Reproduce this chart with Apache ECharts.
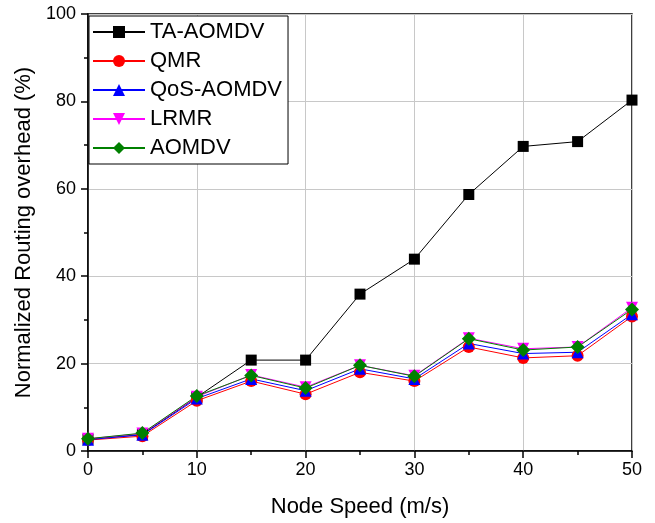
<!DOCTYPE html>
<html><head><meta charset="utf-8">
<script src="https://cdn.jsdelivr.net/npm/echarts@6/dist/echarts.min.js"></script>
<style>html,body{margin:0;padding:0;background:#fff}#c{width:655px;height:523px}</style>
</head><body><div id="c"></div>
<script>
var speeds = [0, 5, 10, 15, 20, 25, 30, 35, 40, 45, 50];
var taAomdv = [2.7, 3.8, 12.3, 20.8, 20.8, 35.9, 43.9, 58.7, 69.7, 70.8, 80.3];
var qmr = [2.5, 3.4, 11.5, 16.0, 13.0, 18.0, 16.0, 23.8, 21.3, 21.8, 30.8];
var qosAomdv = [2.6, 3.7, 12.0, 16.5, 13.8, 18.8, 16.5, 24.6, 22.3, 22.6, 31.3];
var lrmr = [2.8, 4.0, 12.4, 17.4, 14.6, 19.6, 17.2, 25.8, 23.4, 23.8, 32.8];
var aomdv = [2.8, 4.1, 12.6, 17.3, 14.4, 19.6, 17.1, 25.7, 23.1, 23.8, 32.4];
var seriesNames = ['TA-AOMDV', 'QMR', 'QoS-AOMDV', 'LRMR', 'AOMDV'];

function pairs(v){ return speeds.map(function(x,i){ return [x, v[i]]; }); }
var font = 'Arial, "Liberation Sans", sans-serif';
var defs = [
  {name: seriesNames[0], data: taAomdv, color: '#000000', symbol: 'rect', size: 11, rot: 0},
  {name: seriesNames[1], data: qmr, color: '#ff0000', symbol: 'circle', size: 12, rot: 0},
  {name: seriesNames[2], data: qosAomdv, color: '#0000ff', symbol: 'triangle', size: 12, rot: 0},
  {name: seriesNames[3], data: lrmr, color: '#ff00ff', symbol: 'triangle', size: 12, rot: 180},
  {name: seriesNames[4], data: aomdv, color: '#008000', symbol: 'diamond', size: 14, rot: 0}
];
var chart = echarts.init(document.getElementById('c'), null, {renderer: 'canvas'});
chart.setOption({
  backgroundColor: '#ffffff',
  animation: false,
  grid: {left: 88, right: 23, top: 14, bottom: 71, show: true, borderColor: '#000', borderWidth: 1.5, backgroundColor: 'transparent'},
  legend: {
    orient: 'vertical', left: 89, top: 16,
    borderColor: '#000', borderWidth: 1, backgroundColor: '#fff',
    padding: [5, 6, 5, 3],
    itemWidth: 52, itemHeight: 15, itemGap: 7,
    textStyle: {fontFamily: font, fontSize: 22, color: '#000', lineHeight: 22},
    data: seriesNames
  },
  xAxis: {
    type: 'value', min: 0, max: 50, interval: 10,
    name: 'Node Speed (m/s)', nameLocation: 'middle', nameGap: 45,
    nameTextStyle: {fontFamily: font, fontSize: 22, color: '#000'},
    axisLine: {show: true, lineStyle: {color: '#000', width: 1.5}},
    axisTick: {show: true, inside: false, length: 7, lineStyle: {color: '#000', width: 1.5}},
    minorTick: {show: true, splitNumber: 2, length: 4, lineStyle: {color: '#000', width: 1.5}},
    axisLabel: {fontFamily: font, fontSize: 18, color: '#000', margin: 10},
    splitLine: {show: true, lineStyle: {color: '#c8c8c8', width: 1}}
  },
  yAxis: {
    type: 'value', min: 0, max: 100, interval: 20,
    name: 'Normalized Routing overhead (%)', nameLocation: 'middle', nameGap: 53,
    nameTextStyle: {fontFamily: font, fontSize: 22, color: '#000'},
    axisLine: {show: true, lineStyle: {color: '#000', width: 1.5}},
    axisTick: {show: true, inside: false, length: 7, lineStyle: {color: '#000', width: 1.5}},
    minorTick: {show: true, splitNumber: 2, length: 4, lineStyle: {color: '#000', width: 1.5}},
    axisLabel: {fontFamily: font, fontSize: 18, color: '#000', margin: 12},
    splitLine: {show: true, lineStyle: {color: '#c8c8c8', width: 1}}
  },
  series: defs.map(function(d){
    return {
      name: d.name, type: 'line', data: pairs(d.data),
      symbol: d.symbol, symbolSize: d.size, symbolRotate: d.rot,
      showAllSymbol: true,
      lineStyle: {color: d.color, width: 1},
      itemStyle: {color: d.color, borderWidth: 0},
      emphasis: {disabled: true}
    };
  })
});
</script></body></html>
